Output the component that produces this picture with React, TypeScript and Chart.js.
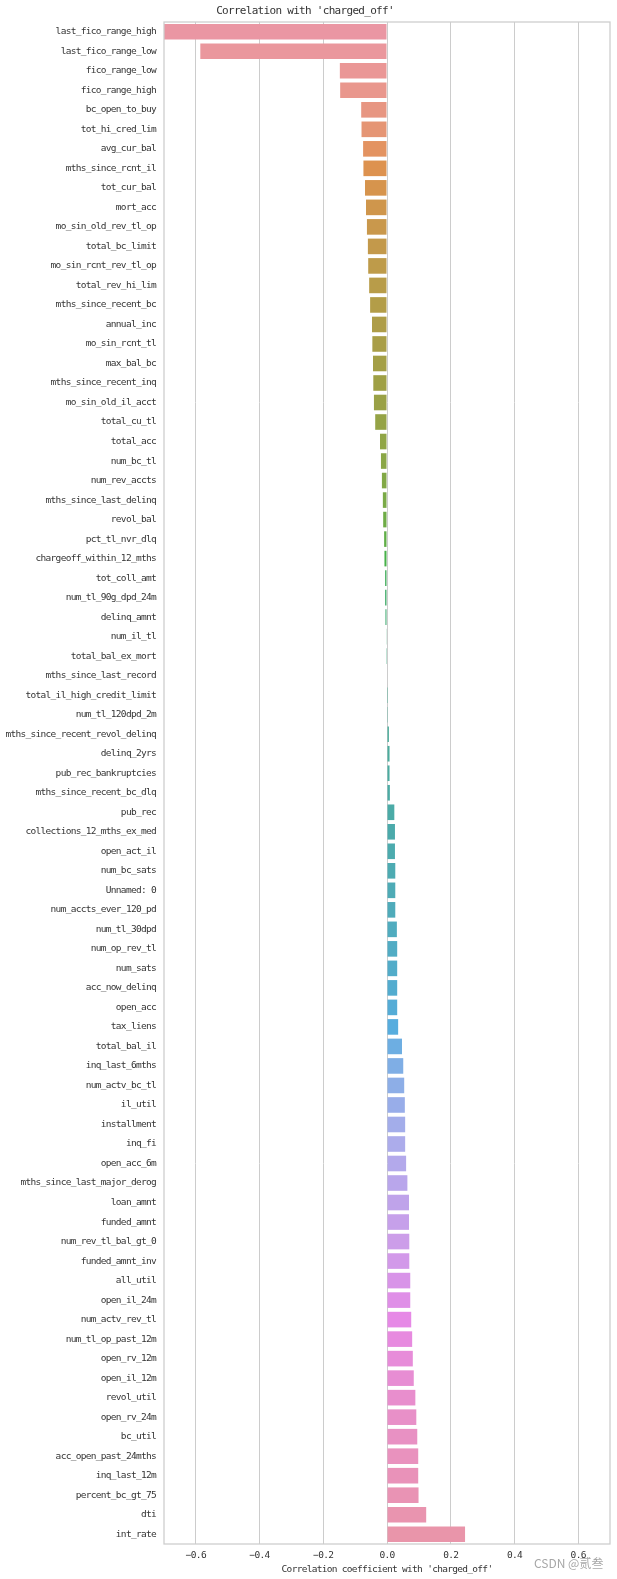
import { useEffect, useRef } from "react";
import { Chart, registerables } from "chart.js";

Chart.register(...registerables);

const TITLE = "Correlation with 'charged_off'";
const X_LABEL = "Correlation coefficient with 'charged_off'";
const WATERMARK = "CSDN @贰叁";

const CATEGORIES = [
  "last_fico_range_high", "last_fico_range_low", "fico_range_low", "fico_range_high",
  "bc_open_to_buy", "tot_hi_cred_lim", "avg_cur_bal", "mths_since_rcnt_il",
  "tot_cur_bal", "mort_acc", "mo_sin_old_rev_tl_op", "total_bc_limit",
  "mo_sin_rcnt_rev_tl_op", "total_rev_hi_lim", "mths_since_recent_bc", "annual_inc",
  "mo_sin_rcnt_tl", "max_bal_bc", "mths_since_recent_inq", "mo_sin_old_il_acct",
  "total_cu_tl", "total_acc", "num_bc_tl", "num_rev_accts",
  "mths_since_last_delinq", "revol_bal", "pct_tl_nvr_dlq", "chargeoff_within_12_mths",
  "tot_coll_amt", "num_tl_90g_dpd_24m", "delinq_amnt", "num_il_tl",
  "total_bal_ex_mort", "mths_since_last_record", "total_il_high_credit_limit", "num_tl_120dpd_2m",
  "mths_since_recent_revol_delinq", "delinq_2yrs", "pub_rec_bankruptcies", "mths_since_recent_bc_dlq",
  "pub_rec", "collections_12_mths_ex_med", "open_act_il", "num_bc_sats",
  "Unnamed: 0", "num_accts_ever_120_pd", "num_tl_30dpd", "num_op_rev_tl",
  "num_sats", "acc_now_delinq", "open_acc", "tax_liens",
  "total_bal_il", "inq_last_6mths", "num_actv_bc_tl", "il_util",
  "installment", "inq_fi", "open_acc_6m", "mths_since_last_major_derog",
  "loan_amnt", "funded_amnt", "num_rev_tl_bal_gt_0", "funded_amnt_inv",
  "all_util", "open_il_24m", "num_actv_rev_tl", "num_tl_op_past_12m",
  "open_rv_12m", "open_il_12m", "revol_util", "open_rv_24m",
  "bc_util", "acc_open_past_24mths", "inq_last_12m", "percent_bc_gt_75",
  "dti", "int_rate",
];

const CORRELATIONS = [
  -0.700, -0.586, -0.148, -0.147,
  -0.081, -0.080, -0.075, -0.074,
  -0.069, -0.066, -0.063, -0.060,
  -0.059, -0.056, -0.053, -0.047,
  -0.046, -0.044, -0.043, -0.041,
  -0.037, -0.022, -0.019, -0.016,
  -0.013, -0.012, -0.009, -0.008,
  -0.006, -0.006, -0.005, -0.001,
  -0.0005, 0.0, 0.0003, 0.0006,
  0.006, 0.008, 0.008, 0.009,
  0.023, 0.025, 0.025, 0.026,
  0.026, 0.026, 0.031, 0.032,
  0.032, 0.032, 0.032, 0.035,
  0.047, 0.051, 0.054, 0.056,
  0.057, 0.057, 0.060, 0.064,
  0.069, 0.069, 0.070, 0.070,
  0.073, 0.073, 0.076, 0.079,
  0.081, 0.084, 0.089, 0.092,
  0.095, 0.098, 0.098, 0.099,
  0.123, 0.245,
];

const X_TICKS = [-0.6, -0.4, -0.2, 0.0, 0.2, 0.4, 0.6];
const X_MIN = -0.7;
const X_MAX = 0.7;

// ---- seaborn husl palette (l=.7, s=.9) desaturated by .75 ----
const M = [
  [3.2406, -1.5372, -0.4986],
  [-0.9689, 1.8758, 0.0415],
  [0.0557, -0.204, 1.057],
];
const refU = 0.19784;
const refV = 0.46834;

function maxChroma(L: number, H: number) {
  const hrad = (H * Math.PI) / 180;
  const sinH = Math.sin(hrad);
  const cosH = Math.cos(hrad);
  const sub1 = Math.pow(L + 16, 3) / 1560896.0;
  const sub2 = sub1 > 0.008856 ? sub1 : L / 903.3;
  let result = Infinity;
  for (const row of M) {
    const [m1, m2, m3] = row;
    const top = (0.99915 * m1 + 1.05122 * m2 + 1.1446 * m3) * sub2;
    const rbottom = 0.8633 * m3 - 0.17266 * m2;
    const lbottom = 0.12949 * m3 - 0.38848 * m1;
    const bottom = (rbottom * sinH + lbottom * cosH) * sub2;
    for (const t of [0, 1]) {
      const C = (L * (top - 1.05122 * t)) / (bottom + 0.17266 * sinH * t);
      if (C > 0 && C < result) result = C;
    }
  }
  return result;
}

function fromLinear(c: number) {
  return c <= 0.0031308 ? 12.92 * c : 1.055 * Math.pow(c, 1 / 2.4) - 0.055;
}

function huslToRgb(H: number, S: number, L: number): number[] {
  const C = (maxChroma(L, H) / 100) * S;
  const hr = (H * Math.PI) / 180;
  const U = Math.cos(hr) * C;
  const V = Math.sin(hr) * C;
  const t = (L + 16) / 116;
  const varY = Math.pow(t, 3) > 0.008856 ? Math.pow(t, 3) : (116 * t - 16) / 903.3;
  const varU = U / (13 * L) + refU;
  const varV = V / (13 * L) + refV;
  const Y = varY;
  const X = -(9 * Y * varU) / ((varU - 4) * varV - varU * varV);
  const Z = (9 * Y - 15 * varV * Y - varV * X) / (3 * varV);
  return M.map((r) => {
    const v = fromLinear(r[0] * X + r[1] * Y + r[2] * Z);
    return Math.min(1, Math.max(0, v));
  });
}

function rgbToHls(r: number, g: number, b: number) {
  const maxc = Math.max(r, g, b);
  const minc = Math.min(r, g, b);
  const l = (minc + maxc) / 2;
  if (minc === maxc) return [0, l, 0];
  const s = l <= 0.5 ? (maxc - minc) / (maxc + minc) : (maxc - minc) / (2 - maxc - minc);
  const rc = (maxc - r) / (maxc - minc);
  const gc = (maxc - g) / (maxc - minc);
  const bc = (maxc - b) / (maxc - minc);
  let h;
  if (r === maxc) h = bc - gc;
  else if (g === maxc) h = 2 + rc - bc;
  else h = 4 + gc - rc;
  h = ((h / 6) % 1 + 1) % 1;
  return [h, l, s];
}

function hv(m1: number, m2: number, hue: number) {
  hue = ((hue % 1) + 1) % 1;
  if (hue < 1 / 6) return m1 + (m2 - m1) * hue * 6;
  if (hue < 0.5) return m2;
  if (hue < 2 / 3) return m1 + (m2 - m1) * (2 / 3 - hue) * 6;
  return m1;
}

function hlsToRgb(h: number, l: number, s: number) {
  if (s === 0) return [l, l, l];
  const m2 = l <= 0.5 ? l * (1 + s) : l + s - l * s;
  const m1 = 2 * l - m2;
  return [hv(m1, m2, h + 1 / 3), hv(m1, m2, h), hv(m1, m2, h - 1 / 3)];
}

function seabornColors(n: number) {
  const out: string[] = [];
  for (let i = 0; i < n; i++) {
    const hue = ((i / n + 0.01) % 1) * 359;
    const [r, g, b] = huslToRgb(hue, 0.9 * 99, 0.7 * 99);
    const [h, l, s] = rgbToHls(r, g, b);
    const [r2, g2, b2] = hlsToRgb(h, l, s * 0.75);
    out.push(`rgb(${Math.round(r2 * 255)},${Math.round(g2 * 255)},${Math.round(b2 * 255)})`);
  }
  return out;
}

const FONT = "'DejaVu Sans Mono', 'Liberation Mono', monospace";
const TEXT = "#333333";

const fmt = (v: number) => (v < -1e-9 ? "\u2212" : "") + Math.abs(v).toFixed(1);

export default function App() {
  const canvasRef = useRef<HTMLCanvasElement | null>(null);

  useEffect(() => {
    if (!canvasRef.current) return;
    const framePlugin = {
      id: "frame",
      beforeDraw(chart: any) {
        chart.ctx.letterSpacing = "-0.7px";
      },
      afterDatasetsDraw(chart: any) {
        const { ctx, chartArea: a } = chart;
        ctx.save();
        ctx.strokeStyle = "#cccccc";
        ctx.lineWidth = 1.25;
        ctx.strokeRect(a.left, a.top, a.right - a.left, a.bottom - a.top);
        ctx.restore();
      },
    };
    const chart = new Chart(canvasRef.current, {
      type: "bar",
      data: {
        labels: CATEGORIES,
        datasets: [
          {
            data: CORRELATIONS,
            backgroundColor: seabornColors(CATEGORIES.length),
            borderWidth: 0,
            barPercentage: 0.8,
            categoryPercentage: 1,
          },
        ],
      },
      options: {
        indexAxis: "y",
        animation: false,
        responsive: true,
        maintainAspectRatio: false,
        layout: { padding: { left: 0, right: 7, top: 0, bottom: 0 } },
        plugins: {
          legend: { display: false },
          tooltip: { enabled: false },
          title: {
            display: true,
            text: TITLE,
            color: TEXT,
            font: { family: FONT, size: 11, weight: "normal", lineHeight: 1.2 },
            padding: { top: 5, bottom: 3.8 },
          },
        },
        scales: {
          x: {
            type: "linear",
            min: X_MIN,
            max: X_MAX,
            afterBuildTicks: (s: any) => {
              s.ticks = X_TICKS.map((v) => ({ value: v }));
            },
            afterFit: (s: any) => {
              s.height = 35;
            },
            grid: { color: "#cccccc", lineWidth: 1, drawTicks: false },
            border: { display: false },
            ticks: {
              padding: 6,
              color: TEXT,
              font: { family: FONT, size: 9.5 },
              callback: (v: any) => fmt(Number(v)),
            },
            title: {
              display: true,
              text: X_LABEL,
              color: TEXT,
              font: { family: FONT, size: 9.5 },
              padding: { top: 0, bottom: 4 },
            },
          },
          y: {
            type: "category",
            afterFit: (s: any) => {
              s.width = 164;
            },
            grid: { display: false, drawTicks: false, tickLength: 0 },
            border: { display: false },
            ticks: {
              padding: 8,
              autoSkip: false,
              color: TEXT,
              font: { family: FONT, size: 9.5 },
            },
          },
        },
      },
      plugins: [framePlugin],
    } as any);
    return () => chart.destroy();
  }, []);

  return (
    <div style={{ position: "absolute", left: 0, top: 0, width: 617, height: 1579 }}>
      <canvas ref={canvasRef} />
      <span
        style={{
          position: "absolute",
          left: 534,
          top: 1556,
          fontFamily: "'Noto Sans CJK SC', 'Noto Sans', sans-serif",
          fontSize: 12,
          lineHeight: "14px",
          color: "rgba(150,150,150,0.85)",
          whiteSpace: "nowrap",
        }}
      >
        {WATERMARK}
      </span>
    </div>
  );
}
